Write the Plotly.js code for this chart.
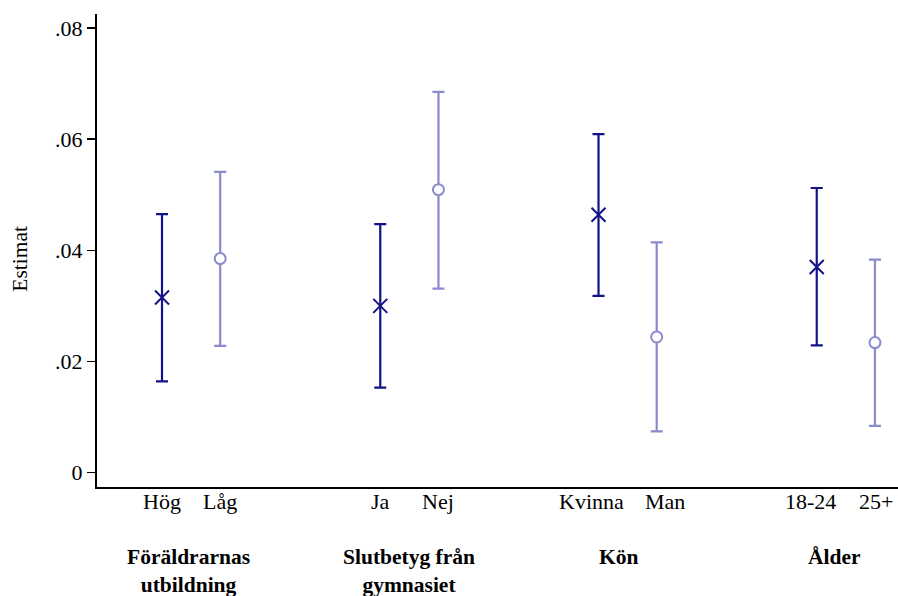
<!DOCTYPE html>
<html>
<head>
<meta charset="utf-8">
<script src="https://cdn.plot.ly/plotly-3.0.1.min.js"></script>
<style>html,body{margin:0;padding:0;background:#fff;}#chart{width:898px;height:596px;}</style>
</head>
<body>
<div id="chart"></div>
<script>
// Category labels and x positions (groups of two, gap between groups)
const categories = ["Hög", "Låg", "Ja", "Nej", "Kvinna", "Man", "18-24", "25+"];
const xPositions = [0, 1, 3.75, 4.75, 7.5, 8.5, 11.25, 12.25];
const groupLabels = ["Föräldrarnas<br>utbildning", "Slutbetyg från<br>gymnasiet", "Kön", "Ålder"];
const groupLabelX = [0.45, 4.25, 7.85, 11.55];

// Series A (first category of each group) – estimate with CI
const aX = [0, 3.75, 7.5, 11.25];
const aEst = [0.0315, 0.0300, 0.0464, 0.0370];
const aLow = [0.0164, 0.0153, 0.0318, 0.0229];
const aHigh = [0.0465, 0.0447, 0.0609, 0.0512];

// Series B (second category of each group)
const bX = [1, 4.75, 8.5, 12.25];
const bEst = [0.0385, 0.0509, 0.0244, 0.0234];
const bLow = [0.0228, 0.0331, 0.0074, 0.0084];
const bHigh = [0.0541, 0.0685, 0.0414, 0.0383];

const dark = "#12128a";
const light = "#8a8acc";
const serif = "'Liberation Serif', 'Times New Roman', Times, serif";
// small horizontal nudges of the category labels, as in the reference
const labelNudge = [0, 0, 0, 0, -7, 8, -6, 1];

function errArr(est, lo, hi) {
  return {
    plus: est.map((v, i) => hi[i] - v),
    minus: est.map((v, i) => v - lo[i])
  };
}
const ea = errArr(aEst, aLow, aHigh);
const eb = errArr(bEst, bLow, bHigh);

const traces = [
  {
    x: aX, y: aEst, type: "scatter", mode: "markers",
    marker: {symbol: "x-thin-open", size: 14, color: dark, line: {color: dark, width: 2}},
    error_y: {type: "data", symmetric: false, array: ea.plus, arrayminus: ea.minus,
              color: dark, thickness: 2.2, width: 6},
    hoverinfo: "skip", showlegend: false
  },
  {
    x: bX, y: bEst, type: "scatter", mode: "markers",
    marker: {symbol: "circle", size: 11, color: "#ffffff", line: {color: light, width: 2}},
    error_y: {type: "data", symmetric: false, array: eb.plus, arrayminus: eb.minus,
              color: light, thickness: 2.2, width: 6},
    hoverinfo: "skip", showlegend: false
  }
];

const groupAnn = groupLabels.map((t, i) => ({
  x: groupLabelX[i], xref: "x", y: 0, yref: "paper",
  yshift: -56, yanchor: "top", xanchor: "center",
  text: "<b>" + t + "</b>", showarrow: false, align: "center",
  font: {family: serif, size: 21.5, color: "#000"}
}));
const catAnn = categories.map((t, i) => ({
  x: xPositions[i], xref: "x", y: 0, yref: "paper",
  yshift: -14, xshift: labelNudge[i], yanchor: "middle", xanchor: "center",
  text: t, showarrow: false,
  font: {family: serif, size: 22, color: "#000"}
}));
const yTitleAnn = {
  x: 0, xref: "paper", xshift: -77, y: 0.4826, yref: "paper",
  xanchor: "center", yanchor: "middle", textangle: -90,
  text: "Estimat", showarrow: false,
  font: {family: serif, size: 21.5, color: "#000"}
};

const layout = {
  width: 898, height: 596,
  margin: {l: 97, r: 0, t: 14, b: 108.5},
  paper_bgcolor: "#fff", plot_bgcolor: "#fff",
  font: {family: serif, size: 22, color: "#000"},
  showlegend: false,
  xaxis: {
    range: [-1.117, 12.646],
    tickmode: "array", tickvals: xPositions, showticklabels: false,
    ticks: "", showgrid: false, zeroline: false,
    showline: true, linecolor: "#000", linewidth: 2,
    fixedrange: true
  },
  yaxis: {
    range: [-0.00259, 0.0825],
    tickmode: "array", tickvals: [0, 0.02, 0.04, 0.06, 0.08],
    ticktext: ["0", ".02", ".04", ".06", ".08"],
    ticks: "outside", ticklen: 8, tickwidth: 1.5, tickcolor: "#000",
    showgrid: false, zeroline: false,
    showline: true, linecolor: "#000", linewidth: 2,
    tickfont: {family: serif, size: 22},
    fixedrange: true
  },
  annotations: catAnn.concat(groupAnn, [yTitleAnn])
};

Plotly.newPlot("chart", traces, layout, {displayModeBar: false, staticPlot: true});
</script>
</body>
</html>
